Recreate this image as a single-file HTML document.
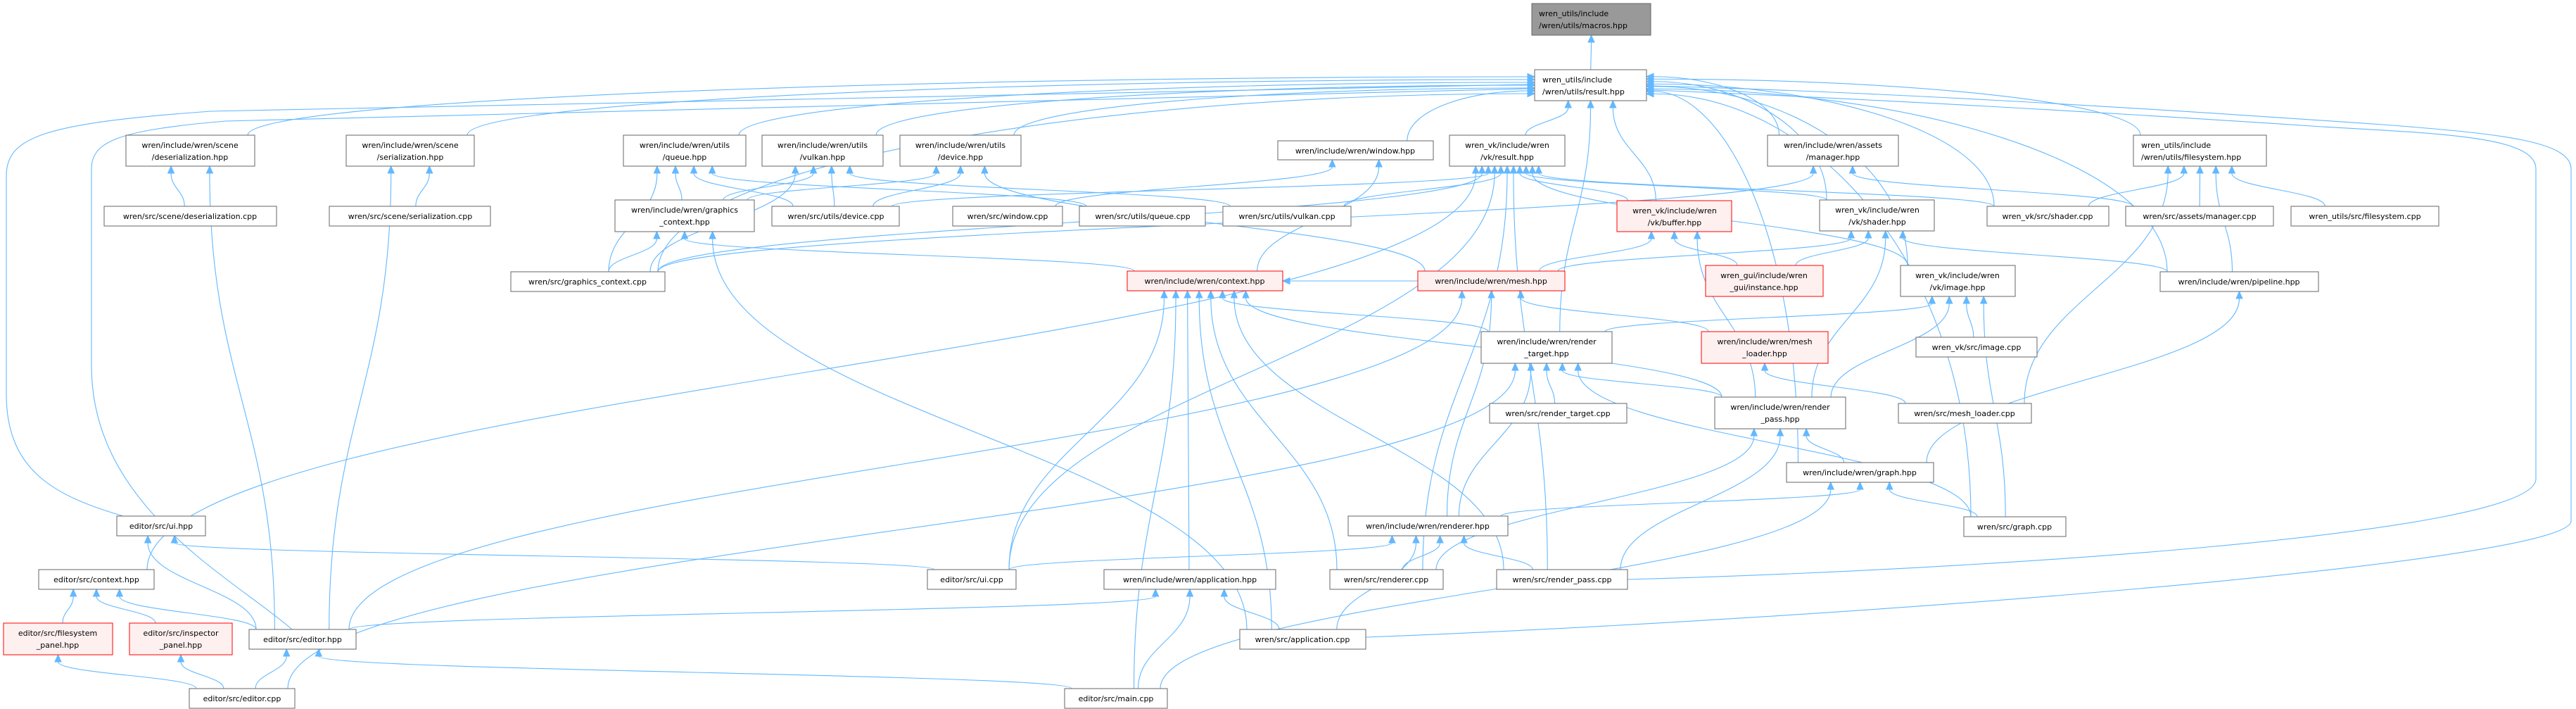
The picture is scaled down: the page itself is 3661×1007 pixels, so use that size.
<!DOCTYPE html>
<html><head><meta charset="utf-8"><style>
html,body{margin:0;padding:0;background:#fff;}
svg{display:block;}
text{font-family:"DejaVu Sans","Liberation Sans",sans-serif;font-size:11px;fill:#000;}
.n rect{fill:#fff;stroke:#666;stroke-width:1;}
.r rect{fill:#fff0f0;stroke:#f00;stroke-width:1;}
.g rect{fill:#999;stroke:#666;stroke-width:1;}
#E path,#F path{fill:none;stroke:#63b8ff;stroke-width:1.1;}
#E polygon,#F polygon{fill:#63b8ff;stroke:#63b8ff;}
</style></head><body>
<svg id="S" width="3661" height="1007" viewBox="0 0 3661 1007" xmlns="http://www.w3.org/2000/svg">
<g id="F">
<path d="M175,733 C80,705 9,670 9,560 L9,250 C9,195 60,175 300,158 L2171,120"/>
<polygon points="2171,115.5 2171,124.5 2181,120"/>
<path d="M415,894 C330,820 130,720 130,520 L130,240 C130,200 170,185 320,172 L2171,126"/>
<polygon points="2171,121.5 2171,130.5 2181,126"/>
<path d="M2313,823 C2800,810 3604,760 3604,680 L3604,240 C3604,195 3480,190 3300,180 C3000,160 2650,140 2350,128"/>
<polygon points="2350,123.5 2350,132.5 2340,128"/>
<path d="M1941,905 C2600,880 3654,800 3654,740 L3654,240 C3654,200 3550,190 3400,178 C3000,150 2650,130 2350,122"/>
<polygon points="2350,117.5 2350,126.5 2340,122"/>
</g>
<g id="E"></g>
<g id="N">
<g class="g"><rect x="2177" y="5" width="169" height="45"/><text x="2187" y="23">wren_utils/include</text><text x="2187" y="40">/wren/utils/macros.hpp</text></g>
<g class="n"><rect x="2181" y="99" width="159" height="44"/><text x="2192" y="117">wren_utils/include</text><text x="2192" y="134">/wren/utils/result.hpp</text></g>
<g class="n"><rect x="179" y="192" width="183" height="44"/><text x="270" y="210" text-anchor="middle">wren/include/wren/scene</text><text x="270" y="227" text-anchor="middle">/deserialization.hpp</text></g>
<g class="n"><rect x="492" y="192" width="182" height="44"/><text x="583" y="210" text-anchor="middle">wren/include/wren/scene</text><text x="583" y="227" text-anchor="middle">/serialization.hpp</text></g>
<g class="n"><rect x="886" y="192" width="174" height="44"/><text x="973" y="210" text-anchor="middle">wren/include/wren/utils</text><text x="973" y="227" text-anchor="middle">/queue.hpp</text></g>
<g class="n"><rect x="1083" y="192" width="172" height="44"/><text x="1169" y="210" text-anchor="middle">wren/include/wren/utils</text><text x="1169" y="227" text-anchor="middle">/vulkan.hpp</text></g>
<g class="n"><rect x="1279" y="192" width="172" height="44"/><text x="1365" y="210" text-anchor="middle">wren/include/wren/utils</text><text x="1365" y="227" text-anchor="middle">/device.hpp</text></g>
<g class="n"><rect x="1816" y="200" width="221" height="27"/><text x="1926" y="218" text-anchor="middle">wren/include/wren/window.hpp</text></g>
<g class="n"><rect x="2060" y="192" width="164" height="44"/><text x="2142" y="210" text-anchor="middle">wren_vk/include/wren</text><text x="2142" y="227" text-anchor="middle">/vk/result.hpp</text></g>
<g class="n"><rect x="2512" y="192" width="186" height="44"/><text x="2605" y="210" text-anchor="middle">wren/include/wren/assets</text><text x="2605" y="227" text-anchor="middle">/manager.hpp</text></g>
<g class="n"><rect x="3032" y="192" width="189" height="44"/><text x="3043" y="210">wren_utils/include</text><text x="3043" y="227">/wren/utils/filesystem.hpp</text></g>
<g class="n"><rect x="148" y="293" width="245" height="28"/><text x="270" y="311" text-anchor="middle">wren/src/scene/deserialization.cpp</text></g>
<g class="n"><rect x="468" y="293" width="229" height="28"/><text x="583" y="311" text-anchor="middle">wren/src/scene/serialization.cpp</text></g>
<g class="n"><rect x="874" y="284" width="198" height="45"/><text x="973" y="302" text-anchor="middle">wren/include/wren/graphics</text><text x="973" y="319" text-anchor="middle">_context.hpp</text></g>
<g class="n"><rect x="1097" y="293" width="181" height="28"/><text x="1188" y="311" text-anchor="middle">wren/src/utils/device.cpp</text></g>
<g class="n"><rect x="1354" y="293" width="156" height="28"/><text x="1432" y="311" text-anchor="middle">wren/src/window.cpp</text></g>
<g class="n"><rect x="1534" y="293" width="179" height="28"/><text x="1624" y="311" text-anchor="middle">wren/src/utils/queue.cpp</text></g>
<g class="n"><rect x="1738" y="293" width="182" height="28"/><text x="1829" y="311" text-anchor="middle">wren/src/utils/vulkan.cpp</text></g>
<g class="r"><rect x="2298" y="285" width="163" height="44"/><text x="2380" y="303" text-anchor="middle">wren_vk/include/wren</text><text x="2380" y="320" text-anchor="middle">/vk/buffer.hpp</text></g>
<g class="n"><rect x="2586" y="284" width="163" height="44"/><text x="2668" y="302" text-anchor="middle">wren_vk/include/wren</text><text x="2668" y="319" text-anchor="middle">/vk/shader.hpp</text></g>
<g class="n"><rect x="2824" y="293" width="173" height="28"/><text x="2910" y="311" text-anchor="middle">wren_vk/src/shader.cpp</text></g>
<g class="n"><rect x="3021" y="293" width="210" height="28"/><text x="3126" y="311" text-anchor="middle">wren/src/assets/manager.cpp</text></g>
<g class="n"><rect x="3256" y="293" width="210" height="28"/><text x="3361" y="311" text-anchor="middle">wren_utils/src/filesystem.cpp</text></g>
<g class="n"><rect x="726" y="386" width="219" height="28"/><text x="835" y="404" text-anchor="middle">wren/src/graphics_context.cpp</text></g>
<g class="r"><rect x="1602" y="385" width="221" height="28"/><text x="1712" y="403" text-anchor="middle">wren/include/wren/context.hpp</text></g>
<g class="r"><rect x="2015" y="385" width="209" height="28"/><text x="2119" y="403" text-anchor="middle">wren/include/wren/mesh.hpp</text></g>
<g class="r"><rect x="2424" y="377" width="167" height="44"/><text x="2507" y="395" text-anchor="middle">wren_gui/include/wren</text><text x="2507" y="412" text-anchor="middle">_gui/instance.hpp</text></g>
<g class="n"><rect x="2701" y="377" width="163" height="44"/><text x="2782" y="395" text-anchor="middle">wren_vk/include/wren</text><text x="2782" y="412" text-anchor="middle">/vk/image.hpp</text></g>
<g class="n"><rect x="3070" y="386" width="225" height="28"/><text x="3182" y="404" text-anchor="middle">wren/include/wren/pipeline.hpp</text></g>
<g class="n"><rect x="2105" y="471" width="186" height="45"/><text x="2198" y="489" text-anchor="middle">wren/include/wren/render</text><text x="2198" y="506" text-anchor="middle">_target.hpp</text></g>
<g class="r"><rect x="2418" y="471" width="180" height="45"/><text x="2508" y="489" text-anchor="middle">wren/include/wren/mesh</text><text x="2508" y="506" text-anchor="middle">_loader.hpp</text></g>
<g class="n"><rect x="2723" y="479" width="172" height="28"/><text x="2809" y="497" text-anchor="middle">wren_vk/src/image.cpp</text></g>
<g class="n"><rect x="2117" y="573" width="195" height="28"/><text x="2214" y="591" text-anchor="middle">wren/src/render_target.cpp</text></g>
<g class="n"><rect x="2437" y="564" width="186" height="45"/><text x="2530" y="582" text-anchor="middle">wren/include/wren/render</text><text x="2530" y="599" text-anchor="middle">_pass.hpp</text></g>
<g class="n"><rect x="2698" y="573" width="189" height="28"/><text x="2792" y="591" text-anchor="middle">wren/src/mesh_loader.cpp</text></g>
<g class="n"><rect x="2539" y="657" width="209" height="28"/><text x="2643" y="675" text-anchor="middle">wren/include/wren/graph.hpp</text></g>
<g class="n"><rect x="166" y="733" width="126" height="28"/><text x="229" y="751" text-anchor="middle">editor/src/ui.hpp</text></g>
<g class="n"><rect x="1916" y="733" width="227" height="28"/><text x="2029" y="751" text-anchor="middle">wren/include/wren/renderer.hpp</text></g>
<g class="n"><rect x="2791" y="734" width="145" height="28"/><text x="2863" y="752" text-anchor="middle">wren/src/graph.cpp</text></g>
<g class="n"><rect x="55" y="809" width="164" height="28"/><text x="137" y="827" text-anchor="middle">editor/src/context.hpp</text></g>
<g class="n"><rect x="1318" y="809" width="126" height="28"/><text x="1381" y="827" text-anchor="middle">editor/src/ui.cpp</text></g>
<g class="n"><rect x="1569" y="809" width="244" height="28"/><text x="1691" y="827" text-anchor="middle">wren/include/wren/application.hpp</text></g>
<g class="n"><rect x="1890" y="809" width="161" height="28"/><text x="1970" y="827" text-anchor="middle">wren/src/renderer.cpp</text></g>
<g class="n"><rect x="2127" y="809" width="186" height="28"/><text x="2220" y="827" text-anchor="middle">wren/src/render_pass.cpp</text></g>
<g class="r"><rect x="5" y="885" width="155" height="45"/><text x="82" y="903" text-anchor="middle">editor/src/filesystem</text><text x="82" y="920" text-anchor="middle">_panel.hpp</text></g>
<g class="r"><rect x="184" y="885" width="146" height="45"/><text x="257" y="903" text-anchor="middle">editor/src/inspector</text><text x="257" y="920" text-anchor="middle">_panel.hpp</text></g>
<g class="n"><rect x="354" y="894" width="152" height="28"/><text x="430" y="912" text-anchor="middle">editor/src/editor.hpp</text></g>
<g class="n"><rect x="1762" y="894" width="179" height="28"/><text x="1851" y="912" text-anchor="middle">wren/src/application.cpp</text></g>
<g class="n"><rect x="269" y="978" width="150" height="28"/><text x="344" y="996" text-anchor="middle">editor/src/editor.cpp</text></g>
<g class="n"><rect x="1513" y="978" width="146" height="28"/><text x="1586" y="996" text-anchor="middle">editor/src/main.cpp</text></g>
</g>
</svg>
<script>
var B={macros:[2177,5,2346,50],result:[2181,99,2340,143],deserh:[179,192,362,236],serh:[492,192,674,236],queueh:[886,192,1060,236],vulkanh:[1083,192,1255,236],deviceh:[1279,192,1451,236],windowh:[1816,200,2037,227],vkres:[2060,192,2224,236],manh:[2512,192,2698,236],fsh:[3032,192,3221,236],deserc:[148,293,393,321],serc:[468,293,697,321],gctxh:[874,284,1072,329],udevc:[1097,293,1278,321],winc:[1354,293,1510,321],uqc:[1534,293,1713,321],uvkc:[1738,293,1920,321],buf:[2298,285,2461,329],shh:[2586,284,2749,328],shc:[2824,293,2997,321],manc:[3021,293,3231,321],fsc:[3256,293,3466,321],gctxc:[726,386,945,414],ctx:[1602,385,1823,413],mesh:[2015,385,2224,413],inst:[2424,377,2591,421],img:[2701,377,2864,421],pipe:[3070,386,3295,414],rth:[2105,471,2291,516],mlh:[2418,471,2598,516],imgc:[2723,479,2895,507],rtc:[2117,573,2312,601],rph:[2437,564,2623,609],mlc:[2698,573,2887,601],graphh:[2539,657,2748,685],uih:[166,733,292,761],rendh:[1916,733,2143,761],graphc:[2791,734,2936,762],ectx:[55,809,219,837],uic:[1318,809,1444,837],apph:[1569,809,1813,837],rendc:[1890,809,2051,837],rpc:[2127,809,2313,837],fsp:[5,885,160,930],insp:[184,885,330,930],edh:[354,894,506,922],appc:[1762,894,1941,922],edc:[269,978,419,1006],mainc:[1513,978,1659,1006]};
var E=[["result","macros"],
["deserh","result"],["serh","result"],["queueh","result"],["vulkanh","result"],["deviceh","result"],["windowh","result"],["vkres","result"],["manh","result"],["fsh","result"],["shh","result"],["rth","result"],["graphh","result"],["img","result"],["gctxc","result"],["shc","result"],["pipe","result"],["graphc","result"],["buf","result"],
["buf","vkres"],["shh","vkres"],["uvkc","vkres"],["udevc","vkres"],["gctxc","vkres"],["ectx","vkres"],["uic","vkres"],["rendc","vkres"],["rpc","vkres"],["img","vkres"],["shc","vkres"],
["winc","windowh"],["ctx","windowh"],
["gctxh","queueh"],["udevc","queueh"],["uqc","queueh"],["gctxc","queueh"],
["gctxh","vulkanh"],["udevc","vulkanh"],["uvkc","vulkanh"],["gctxc","vulkanh"],
["gctxh","deviceh"],["udevc","deviceh"],["mesh","deviceh"],
["deserc","deserh"],["edh","deserh"],["serc","serh"],["edh","serh"],
["gctxc","gctxh"],["ctx","gctxh"],["appc","gctxh"],
["uic","ctx"],["apph","ctx"],["mainc","ctx"],["rendc","ctx"],["rpc","ctx"],["rth","ctx"],["rph","ctx"],["appc","ctx"],["mesh","ctx"],
["manc","manh"],["gctxc","manh"],
["mesh","buf"],["inst","buf"],["rph","buf"],
["inst","shh"],["mesh","shh"],["pipe","shh"],["rph","shh"],
["imgc","img"],["rth","img"],["rph","img"],["graphc","img"],
["shc","fsh"],["manc","fsh"],["fsc","fsh"],["mlc","fsh"],["pipe","fsh"],
["mlh","mesh"],["rendh","mesh"],["edh","mesh"],["mlc","mlh"],
["rtc","rth"],["rph","rth"],["rendh","rth"],["graphc","rth"],["edc","rth"],
["graphh","rph"],["rendc","rph"],["rpc","rph"],
["rendh","graphh"],["graphc","graphh"],["mainc","graphh"],
["rendc","rendh"],["rpc","rendh"],["appc","rendh"],["uic","rendh"],
["graphh","pipe"],
["mainc","apph"],["appc","apph"],["edh","apph"],
["uic","uih"],["edh","uih"],
["fsp","ectx"],["insp","ectx"],["edh","ectx"],
["edc","fsp"],["edc","insp"],["edc","edh"],["mainc","edh"]];
var g=document.getElementById("E"),ns="http://www.w3.org/2000/svg";
function side(s,t,tn){var scx=(s[0]+s[2])/2,tcx=(t[0]+t[2])/2,dx=scx-tcx,dy=s[1]-t[3];
 if(dy<=0) return dx<0?"L":"R";
 if(tn=="result" && Math.abs(dx)>250) return dx<0?"L":"R";
 return "B";}
var groups={};
E.forEach(function(e){var sd=side(B[e[0]],B[e[1]],e[1]);e.push(sd);var k=e[1]+sd;(groups[k]=groups[k]||[]).push(e);});
Object.keys(groups).forEach(function(k){var arr=groups[k];
 if(arr[0][2]=="B")arr.sort(function(a,b){return (B[a[0]][0]+B[a[0]][2])-(B[b[0]][0]+B[b[0]][2]);});
 else arr.sort(function(a,b){return B[a[0]][1]-B[b[0]][1];});
 arr.forEach(function(e,i){e.push(i+1,arr.length);});});
E.forEach(function(e){
 var s=B[e[0]],t=B[e[1]],sd=e[2],k=e[3],n=e[4];
 var tx,ty,ux,uy;
 if(sd=="B"){tx=t[0]+(t[2]-t[0])*(0.2+0.6*(k-0.5)/n);ty=t[3];ux=0;uy=-1;}
 else{ty=t[1]+8+(t[3]-t[1]-16)*((k-0.5)/n);tx=sd=="L"?t[0]:t[2];ux=sd=="L"?1:-1;uy=0;}
 var bx=tx-ux*10,by=ty-uy*10;
 var scx=(s[0]+s[2])/2,sx,sy;
 if(s[1]>t[3]){sx=Math.max(s[0]+10,Math.min(s[2]-10,scx+(bx-scx)*0.3));sy=s[1];}
 else{sy=(s[1]+s[3])/2;sx=(scx<tx)?s[2]:s[0];}
 var d;
 if(sd=="B"){var dy=sy-by;d="M"+sx+","+sy+" C"+sx+","+(sy-dy*0.45)+" "+bx+","+(by+dy*0.45)+" "+bx+","+by;}
 else{var dx=bx-sx;
  if(s[1]>t[3]) d="M"+sx+","+sy+" C"+sx+","+(sy-(sy-by)*0.6)+" "+(bx-dx*0.5)+","+by+" "+bx+","+by;
  else d="M"+sx+","+sy+" C"+(sx+dx*0.5)+","+sy+" "+(sx+dx*0.5)+","+by+" "+bx+","+by;}
 var p=document.createElementNS(ns,"path");p.setAttribute("d",d);g.appendChild(p);
 var px=-uy,py=ux;
 var pts=(bx+px*4.5)+","+(by+py*4.5)+" "+(bx-px*4.5)+","+(by-py*4.5)+" "+tx+","+ty;
 var pg=document.createElementNS(ns,"polygon");pg.setAttribute("points",pts);g.appendChild(pg);
});
</script>
</body></html>
